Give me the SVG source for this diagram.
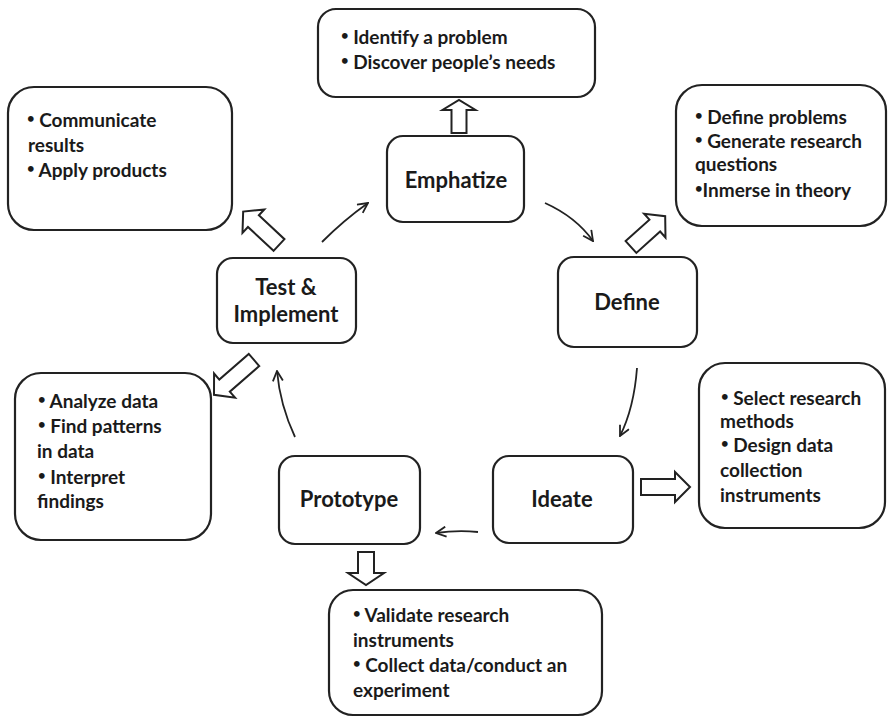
<svg xmlns="http://www.w3.org/2000/svg" width="889" height="718" viewBox="0 0 889 718">
<defs>
<style>
.box{fill:#fff;stroke:#222;stroke-width:2.2}
.t{font-family:Lato,"Open Sans","Liberation Sans",sans-serif;font-weight:bold;font-size:19px;fill:#1a1a1a}
.n{font-family:Lato,"Open Sans","Liberation Sans",sans-serif;font-weight:bold;font-size:22px;fill:#1a1a1a;text-anchor:middle}
.b{font-size:13px}
.blk{fill:#fff;stroke:#222;stroke-width:2;stroke-linejoin:miter}
.thin{fill:none;stroke:#222;stroke-width:1.8;marker-end:url(#v)}
</style>
<marker id="v" viewBox="0 0 12 12" refX="11" refY="6" markerWidth="12" markerHeight="12" markerUnits="userSpaceOnUse" orient="auto">
<path d="M1,1 L11,6 L1,11" fill="none" stroke="#222" stroke-width="1.8"/>
</marker>
</defs>
<rect width="889" height="718" fill="#fff"/>

<g id="connectors">
<path class="thin" d="M322,242 Q344,220 368,203"/>
<path class="thin" d="M545,203 Q576,217 593,241"/>
<path class="thin" d="M637,368 Q634,408 620,436"/>
<path class="thin" d="M478,532 Q457,530 436,533"/>
<path class="thin" d="M295,437 Q280,405 277,371"/>
<path class="blk" transform="translate(459,133) rotate(-90)" d="M0,-7.5 L23,-7.5 L23,-16.5 L33,0 L23,16.5 L23,7.5 L0,7.5 Z"/>
<path class="blk" transform="translate(366,552) rotate(90)" d="M0,-8 L21,-8 L21,-18 L33,0 L21,18 L21,8 L0,8 Z"/>
<path class="blk" transform="translate(641,487) rotate(0)" d="M0,-8 L34,-8 L34,-15 L49,0 L34,15 L34,8 L0,8 Z"/>
<path class="blk" transform="translate(279,245) rotate(-137)" d="M0,-8 L35,-8 L35,-16 L49,0 L35,16 L35,8 L0,8 Z"/>
<path class="blk" transform="translate(631,247) rotate(-42)" d="M0,-8 L32,-8 L32,-16 L46,0 L32,16 L32,8 L0,8 Z"/>
<path class="blk" transform="translate(254,360) rotate(139)" d="M0,-8 L39,-8 L39,-16 L53,0 L39,16 L39,8 L0,8 Z"/>
</g>

<g id="emphatize">
<rect class="box" x="387" y="136" width="137" height="86" rx="16"/>
<text class="n" x="456" y="188">Emphatize</text>
</g>
<g id="define">
<rect class="box" x="558" y="257" width="139" height="90" rx="16"/>
<text class="n" x="627" y="310">Define</text>
</g>
<g id="ideate">
<rect class="box" x="493" y="456" width="140" height="87" rx="16"/>
<text class="n" x="562" y="507">Ideate</text>
</g>
<g id="prototype">
<rect class="box" x="279" y="456" width="141" height="88" rx="16"/>
<text class="n" x="349" y="507">Prototype</text>
</g>
<g id="test">
<rect class="box" x="217" y="258" width="139" height="85" rx="16"/>
<text class="n" x="286" y="295">Test &amp;</text>
<text class="n" x="286" y="322">Implement</text>
</g>

<g id="emphatize-notes">
<rect class="box" x="318" y="9" width="277" height="88" rx="18"/>
<text class="t" x="341" y="44"><tspan class="b" dy="-4">•</tspan><tspan dy="4"> Identify a problem</tspan></text>
<text class="t" x="341" y="69"><tspan class="b" dy="-4">•</tspan><tspan dy="4"> Discover people’s needs</tspan></text>
</g>
<g id="test-notes-top">
<rect class="box" x="8" y="87" width="224" height="143" rx="26"/>
<text class="t" x="27" y="127"><tspan class="b" dy="-4">•</tspan><tspan dy="4"> Communicate</tspan></text>
<text class="t" x="28" y="152">results</text>
<text class="t" x="27" y="177"><tspan class="b" dy="-4">•</tspan><tspan dy="4"> Apply products</tspan></text>
</g>
<g id="define-notes">
<rect class="box" x="676" y="85" width="210" height="141" rx="26"/>
<text class="t" x="695" y="124"><tspan class="b" dy="-4">•</tspan><tspan dy="4"> Define problems</tspan></text>
<text class="t" x="695" y="148"><tspan class="b" dy="-4">•</tspan><tspan dy="4"> Generate research</tspan></text>
<text class="t" x="695" y="171">questions</text>
<text class="t" x="695" y="197"><tspan class="b" dy="-4">•</tspan><tspan dy="4">Inmerse in theory</tspan></text>
</g>
<g id="ideate-notes">
<rect class="box" x="699" y="363" width="186" height="165" rx="26"/>
<text class="t" x="721" y="405"><tspan class="b" dy="-4">•</tspan><tspan dy="4"> Select research</tspan></text>
<text class="t" x="720" y="428">methods</text>
<text class="t" x="721" y="452"><tspan class="b" dy="-4">•</tspan><tspan dy="4"> Design data</tspan></text>
<text class="t" x="720" y="477">collection</text>
<text class="t" x="720" y="502">instruments</text>
</g>
<g id="test-notes-bottom">
<rect class="box" x="15" y="373" width="196" height="167" rx="26"/>
<text class="t" x="38" y="408"><tspan class="b" dy="-4">•</tspan><tspan dy="4"> Analyze data</tspan></text>
<text class="t" x="38" y="433"><tspan class="b" dy="-4">•</tspan><tspan dy="4"> Find patterns</tspan></text>
<text class="t" x="37" y="458">in data</text>
<text class="t" x="38" y="484"><tspan class="b" dy="-4">•</tspan><tspan dy="4"> Interpret</tspan></text>
<text class="t" x="37" y="508">findings</text>
</g>
<g id="prototype-notes">
<rect class="box" x="329" y="590" width="273" height="125" rx="24"/>
<text class="t" x="353" y="622"><tspan class="b" dy="-4">•</tspan><tspan dy="4"> Validate research</tspan></text>
<text class="t" x="353" y="647">instruments</text>
<text class="t" x="353" y="672"><tspan class="b" dy="-4">•</tspan><tspan dy="4"> Collect data/conduct an</tspan></text>
<text class="t" x="353" y="697">experiment</text>
</g>
</svg>
